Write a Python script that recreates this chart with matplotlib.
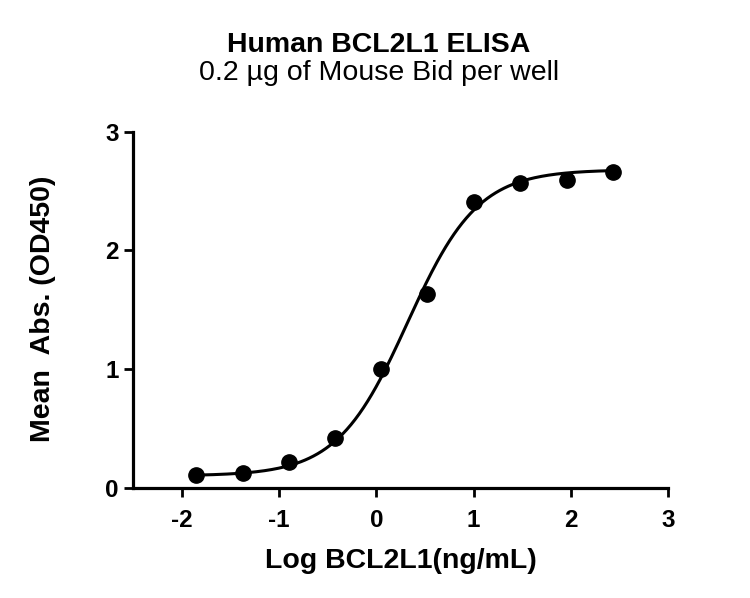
import numpy as np
import matplotlib
matplotlib.use("Agg")
import matplotlib.pyplot as plt

plt.rcParams['font.family'] = ['Liberation Sans', 'DejaVu Sans']
plt.rcParams['axes.unicode_minus'] = False

# measured points
log_conc = [-1.85, -1.37, -0.90, -0.43, 0.05, 0.52, 1.00, 1.48, 1.96, 2.43]
mean_abs = [0.11, 0.12, 0.22, 0.42, 1.00, 1.63, 2.41, 2.57, 2.59, 2.66]

# 4PL fit parameters (bottom, top, logEC50, hill)
fit_bottom = 0.10
fit_top = 2.68
fit_logec50 = 0.32
fit_hill = 1.2

xticks = [-2, -1, 0, 1, 2, 3]
yticks = [0, 1, 2, 3]


def four_pl(x):
    return fit_bottom + (fit_top - fit_bottom) / (1 + 10 ** ((fit_logec50 - x) * fit_hill))


fig = plt.figure(figsize=(7.5, 5.98), dpi=100)
ax = fig.add_axes([0.1777, 0.1844, 0.713, 0.5953])

xs = np.linspace(min(log_conc), max(log_conc), 300)
ax.plot(xs, four_pl(xs), color='black', lw=2.2)
ax.plot(log_conc, mean_abs, 'o', color='black', ms=11)

ax.set_xlim(-2.5, 3)
ax.set_ylim(0, 3)
ax.set_xticks(xticks)
ax.set_yticks(yticks)
ax.spines['top'].set_visible(False)
ax.spines['right'].set_visible(False)
for s in ['left', 'bottom']:
    ax.spines[s].set_linewidth(2.3)
ax.tick_params(length=6.5, width=2.0, labelsize=17.5)
ax.tick_params(axis='x', pad=9)
ax.tick_params(axis='y', pad=4)
for lab in ax.get_xticklabels() + ax.get_yticklabels():
    lab.set_fontweight('bold')

fig.text(0.534, 0.050, 'Log BCL2L1(ng/mL)', ha='center', va='baseline',
         fontsize=20.5, fontweight='bold')
fig.text(0.058, 0.483, 'Mean  Abs. (OD450)', ha='center', va='center',
         rotation=90, fontsize=20.5, fontweight='bold')

fig.text(0.505, 0.9136, 'Human BCL2L1 ELISA', ha='center', va='baseline',
         fontsize=20.5, fontweight='bold')
fig.text(0.505, 0.8662, '0.2 µg of Mouse Bid per well', ha='center', va='baseline',
         fontsize=20.5)

fig.savefig('out.png', dpi=100)
